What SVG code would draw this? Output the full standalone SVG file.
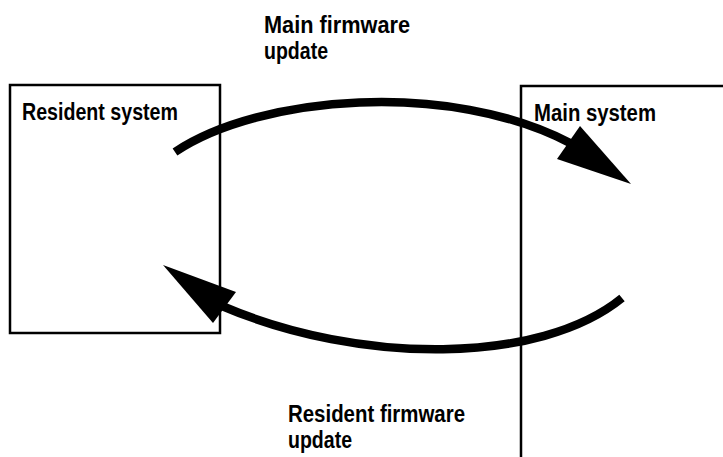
<svg xmlns="http://www.w3.org/2000/svg" width="723" height="457" viewBox="0 0 723 457">
<style>
.box{fill:none;stroke:#000;stroke-width:2.5}
.lbl{font-family:"Liberation Sans Narrow","Liberation Sans",Arial,sans-serif;font-weight:bold;font-size:23.5px;fill:#000}
.arc{fill:none;stroke:#000;stroke-width:8.5}
.head{fill:#000;stroke:none}
</style>
<rect width="723" height="457" fill="#fff"/>
<g id="resident-system">
<rect class="box" x="10" y="85" width="210" height="248"/>
<text class="lbl" x="22" y="120" textLength="156" lengthAdjust="spacingAndGlyphs">Resident system</text>
</g>
<g id="main-system">
<path class="box" d="M723,86 H521 V457"/>
<text class="lbl" x="534" y="121" textLength="122" lengthAdjust="spacingAndGlyphs">Main system</text>
</g>
<g id="connectors">
<g id="main-firmware-update">
<path class="arc" d="M175,152 C260,95 450,80 570,143"/>
<polygon class="head" points="631,184 580,126 557,159"/>
<text class="lbl" x="264" y="33" textLength="146" lengthAdjust="spacingAndGlyphs">Main firmware</text>
<text class="lbl" x="264" y="59" textLength="64" lengthAdjust="spacingAndGlyphs">update</text>
</g>
<g id="resident-firmware-update">
<path class="arc" d="M622,298 C540,365 360,365 222,306"/>
<polygon class="head" points="163,265 236,292 213,323"/>
<text class="lbl" x="288" y="422" textLength="177" lengthAdjust="spacingAndGlyphs">Resident firmware</text>
<text class="lbl" x="288" y="448" textLength="64" lengthAdjust="spacingAndGlyphs">update</text>
</g>
</g>
</svg>
